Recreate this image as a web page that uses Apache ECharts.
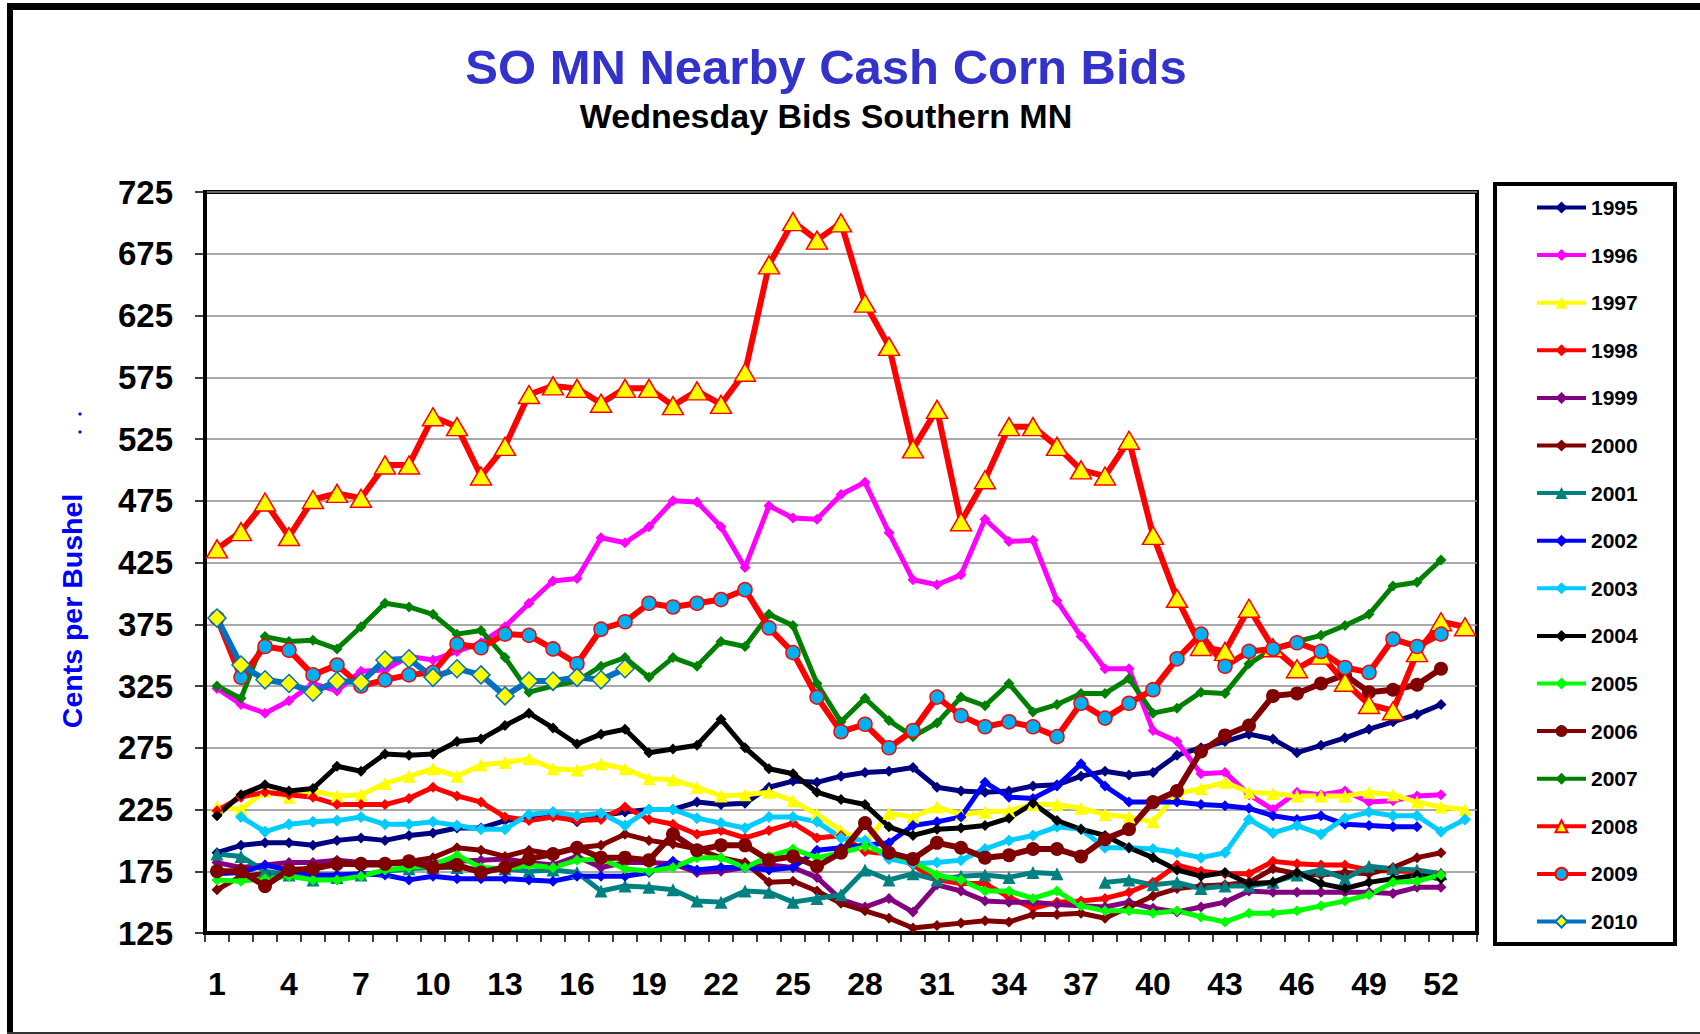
<!DOCTYPE html>
<html><head><meta charset="utf-8">
<script src="https://cdn.jsdelivr.net/npm/echarts@6/dist/echarts.min.js"></script>
<style>html,body{margin:0;padding:0;background:#fff}#c{width:1700px;height:1034px}</style>
</head><body><div id="c"></div>
<script>
const weeks = ['1','2','3','4','5','6','7','8','9','10','11','12','13','14','15','16','17','18','19','20','21','22','23','24','25','26','27','28','29','30','31','32','33','34','35','36','37','38','39','40','41','42','43','44','45','46','47','48','49','50','51','52','53'];
const years = ['1995','1996','1997','1998','1999','2000','2001','2002','2003','2004','2005','2006','2007','2008','2009','2010'];

const y1995 = [190,196,198,198,196,200,202,200,204,206,210,210,216,218,222,215,220,223,225,225,231,229,230,243,248,247,252,255,256,259,243,240,239,240,244,245,252,256,253,255,269,275,280,286,282,271,277,283,290,296,302,310];
const y1996 = [323,310,303,313,327,321,337,338,349,346,353,360,373,392,410,412,445,441,454,475,474,454,421,471,461,460,480,490,449,411,407,415,460,442,443,394,365,339,339,289,280,254,255,237,225,239,237,240,231,232,236,237];
const y1997 = [227,225,240,235,240,236,237,246,252,258,252,261,263,266,258,257,262,258,250,249,243,236,237,239,232,221,208,198,222,219,227,221,223,224,229,229,226,221,219,215,238,242,247,239,238,236,236,236,239,237,231,227,225];
const y1998 = [224,235,239,237,235,229,229,229,234,243,236,231,219,216,219,216,217,227,217,213,205,208,202,208,214,202,204,191,189,180,168,165,165,154,145,150,151,153,158,166,180,175,173,173,183,181,180,180,176,175,175,173];
const y1999 = [182,178,180,182,182,184,182,182,180,182,183,184,185,182,180,187,178,182,182,181,174,175,178,180,178,170,152,146,153,142,164,159,151,150,150,148,147,146,150,145,142,146,150,159,158,158,158,158,158,157,162,162];
const y2000 = [160,171,173,174,178,181,180,180,183,186,194,192,187,192,189,194,196,205,200,197,193,186,182,166,167,159,149,143,137,129,131,133,135,134,140,140,141,137,146,155,161,163,164,166,177,173,172,174,173,178,186,190];
const y2001 = [189,187,175,172,168,170,172,175,177,178,178,176,177,175,176,174,159,163,162,160,151,150,159,158,150,153,156,176,168,173,168,171,172,170,174,173,null,166,168,164,166,161,163,163,166,172,176,169,179,177,176,173];
const y2002 = [173,174,180,176,172,172,173,172,168,171,169,169,169,168,167,171,171,171,174,183,176,178,178,176,178,192,194,196,198,212,215,219,247,235,234,244,262,244,231,231,231,229,228,226,220,217,220,213,212,211,211];
const y2003 = [null,219,207,213,215,216,219,213,213,215,212,209,209,221,223,220,222,212,225,225,218,214,210,219,219,215,202,200,185,181,182,184,193,200,204,211,209,194,194,193,190,186,190,217,206,212,205,218,223,220,220,207,217];
const y2004 = [220,237,245,240,242,260,256,270,269,270,280,282,293,303,291,278,286,290,271,274,277,298,275,258,254,239,233,229,211,204,209,210,212,218,230,216,209,204,194,186,176,171,174,165,166,174,165,161,166,169,172,169];
const y2005 = [168,167,169,171,168,168,171,176,178,180,188,178,177,180,178,184,185,177,175,178,186,186,178,187,193,186,190,195,189,183,172,168,159,159,153,159,147,143,143,141,143,138,134,141,141,143,147,151,156,166,167,172];
const y2006 = [175,175,163,176,177,181,181,181,183,178,180,174,178,185,189,194,186,186,184,205,192,196,196,184,187,179,190,214,190,185,198,194,186,188,193,193,187,201,209,231,240,272,285,293,317,319,327,334,320,322,326,339];
const y2007 = [325,315,365,361,362,355,373,392,389,383,367,370,348,320,325,329,341,348,332,348,341,361,357,383,374,327,296,315,297,284,295,316,309,327,304,310,319,319,331,303,307,320,319,343,355,361,366,374,383,406,409,427];
const y2008 = [436,450,474,446,476,481,477,504,504,543,535,495,519,561,568,566,554,566,566,552,564,553,579,666,701,686,700,635,600,517,549,458,492,535,535,519,500,495,524,447,396,357,353,388,356,339,350,328,310,305,352,377,373];
const y2009 = [380,332,357,354,334,342,325,330,334,336,359,356,367,366,355,343,371,377,392,389,392,395,403,372,352,316,288,294,275,289,316,301,292,296,292,284,311,299,311,322,347,367,341,353,355,360,353,340,336,363,357,367];
const y2010 = [380,342,330,327,320,329,328,346,347,332,339,334,317,329,329,332,330,339];

const seriesData = [y1995,y1996,y1997,y1998,y1999,y2000,y2001,y2002,y2003,y2004,y2005,y2006,y2007,y2008,y2009,y2010];

const looks = [
  {color:'#000080', symbol:'diamond', size:11, width:5},
  {color:'#FF00FF', symbol:'diamond', size:11, width:5},
  {color:'#FFFF00', symbol:'triangle', size:13, width:5},
  {color:'#FF0000', symbol:'diamond', size:11, width:5},
  {color:'#800080', symbol:'diamond', size:11, width:5},
  {color:'#800000', symbol:'diamond', size:11, width:5},
  {color:'#008080', symbol:'triangle', size:13, width:5},
  {color:'#0000FF', symbol:'diamond', size:11, width:5},
  {color:'#00CCFF', symbol:'diamond', size:12, width:5},
  {color:'#000000', symbol:'diamond', size:11, width:5},
  {color:'#00FF00', symbol:'diamond', size:11, width:5},
  {color:'#800000', symbol:'circle', size:14, width:6},
  {color:'#008000', symbol:'diamond', size:11, width:5},
  {color:'#FF0000', symbol:'triangle', size:[21,18], width:6, fill:'#FFFF00', border:'#FF0000'},
  {color:'#FF0000', symbol:'circle', size:14, width:6, fill:'#00B0F0', border:'#FF0000'},
  {color:'#0070C0', symbol:'diamond', size:18, width:6, fill:'#FFFF00', border:'#0070C0'}
];

const FONT = "'Liberation Sans', Arial, Helvetica, sans-serif";

const series = years.map((name, i) => {
  const lk = looks[i];
  return {
    name: name,
    type: 'line',
    data: seriesData[i],
    symbol: lk.symbol,
    symbolSize: lk.size,
    showAllSymbol: true,
    connectNulls: false,
    lineStyle: {color: lk.color, width: lk.width},
    itemStyle: lk.fill ? {color: lk.fill, borderColor: lk.border, borderWidth: 1.5}
                       : {color: lk.color, borderColor: lk.color, borderWidth: 0},
    emphasis: {disabled: true}
  };
});

const chart = echarts.init(document.getElementById('c'), null, {renderer: 'svg', width: 1700, height: 1034});
chart.setOption({
  animation: false,
  backgroundColor: '#ffffff',
  textStyle: {fontFamily: FONT},
  grid: {left: 205, right: 223, top: 192, bottom: 101, show: true, borderColor: '#000', borderWidth: 4, backgroundColor: '#fff', containLabel: false},
  legend: {
    orient: 'vertical', left: 1530, top: 192,
    itemWidth: 49, itemHeight: 15, itemGap: 26.6,
    selectedMode: false,
    lineStyle: {width: 4},
    textStyle: {fontSize: 21, fontWeight: 'bold', color: '#000', fontFamily: FONT, lineHeight: 21},
    data: years
  },
  xAxis: {
    type: 'category', data: weeks, boundaryGap: true,
    axisLine: {show: true, lineStyle: {color: '#000', width: 4}},
    axisTick: {show: true, interval: 0, length: 9, inside: false, lineStyle: {color: '#000', width: 1.5}},
    axisLabel: {interval: 2, fontSize: 32, fontWeight: 'bold', color: '#000', margin: 35, fontFamily: FONT},
    splitLine: {show: false}
  },
  yAxis: {
    type: 'value', min: 125, max: 725, interval: 50,
    axisLine: {show: true, lineStyle: {color: '#000', width: 4}},
    axisTick: {show: true, length: 10, lineStyle: {color: '#000', width: 1.5}},
    axisLabel: {fontSize: 33, fontWeight: 'bold', color: '#000', margin: 32, fontFamily: FONT},
    splitLine: {show: true, lineStyle: {color: '#8c8c8c', width: 1.5}}
  },
  graphic: [
    {type: 'rect', silent: true, shape: {x: 7, y: 3, width: 6, height: 1031}, style: {fill: '#000'}},
    {type: 'rect', silent: true, shape: {x: 7, y: 3, width: 1693, height: 7}, style: {fill: '#000'}},
    {type: 'rect', silent: true, shape: {x: 7, y: 1032, width: 1693, height: 2}, style: {fill: '#333'}},
    {type: 'rect', silent: true, shape: {x: 1495, y: 184, width: 180, height: 760}, style: {fill: 'none', stroke: '#000', lineWidth: 4}},
    {type: 'text', silent: true, x: 826, y: 67, style: {text: 'SO MN Nearby Cash Corn Bids', fontSize: 49, fontWeight: 'bold', fontFamily: FONT, fill: '#3333CC', align: 'center', verticalAlign: 'middle', textAlign: 'center', textVerticalAlign: 'middle'}},
    {type: 'text', silent: true, x: 826, y: 116, style: {text: 'Wednesday Bids Southern MN', fontSize: 34, fontWeight: 'bold', fontFamily: FONT, fill: '#000', align: 'center', verticalAlign: 'middle', textAlign: 'center', textVerticalAlign: 'middle'}},
    {type: 'text', silent: true, x: 72, y: 611, rotation: Math.PI / 2, style: {text: 'Cents per Bushel', fontSize: 28.5, fontWeight: 'bold', fontFamily: FONT, fill: '#0000FF', align: 'center', verticalAlign: 'middle', textAlign: 'center', textVerticalAlign: 'middle'}},
    {type: 'circle', silent: true, shape: {cx: 80, cy: 414, r: 1.6}, style: {fill: '#0000FF'}},
    {type: 'circle', silent: true, shape: {cx: 80, cy: 432, r: 1.6}, style: {fill: '#0000FF'}}
  ],
  series: series
});
</script>
</body></html>
